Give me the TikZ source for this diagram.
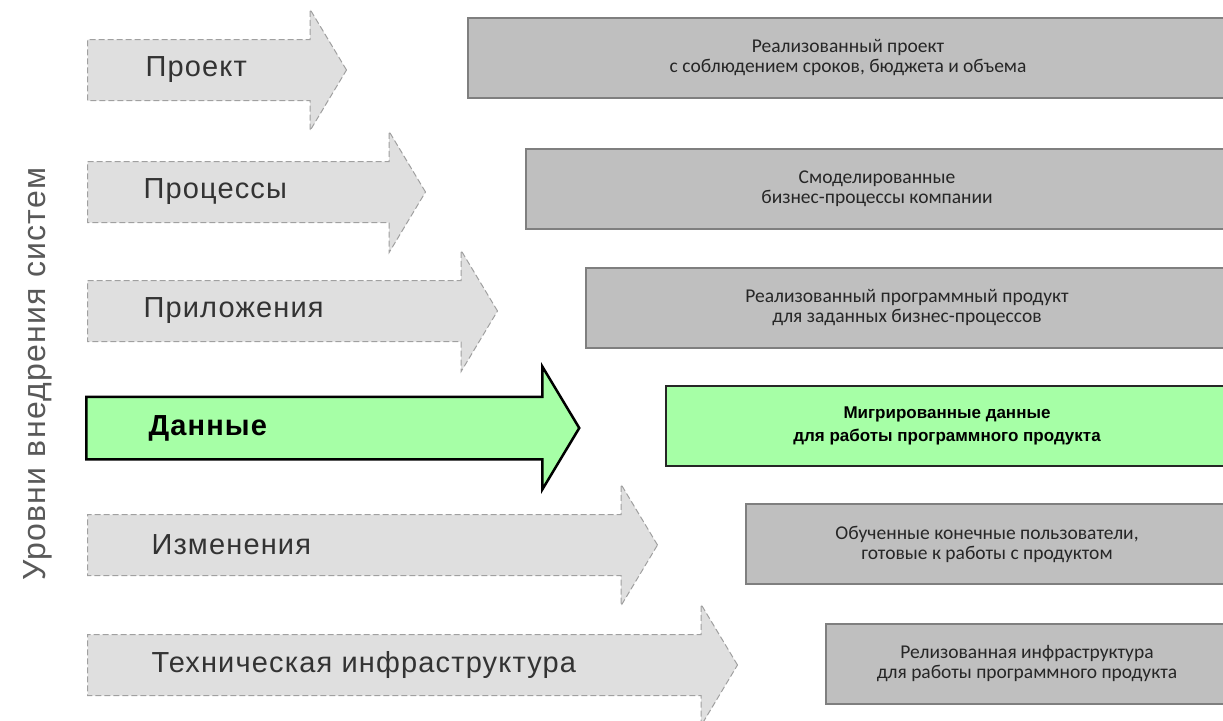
\documentclass[tikz,border=0pt]{standalone}
\usepackage{fontspec}
\setmainfont{Liberation Sans}
\newfontfamily\lvlfont[LetterSpace=4]{Liberation Sans}
\newfontfamily\boxfont{Carlito}
\usetikzlibrary{shapes.arrows}
\definecolor{arrowgray}{HTML}{DFDFDF}
\definecolor{dashgray}{HTML}{A0A0A0}
\definecolor{boxgray}{HTML}{BFBFBF}
\definecolor{rimgray}{HTML}{7F7F7F}
\definecolor{lightgreen}{HTML}{A6FFA6}

\begin{document}
\begin{tikzpicture}[x=1pt,y=-1pt,
  stage/.style={single arrow,single arrow head extend=30pt,single arrow tip angle=118,
    inner xsep=0pt,inner ysep=30pt,anchor=tail},
  gray stage/.style={stage,fill=arrowgray,draw=dashgray,dash pattern=on 6pt off 3pt,line width=1pt},
  green stage/.style={stage,fill=lightgreen,draw=black,line width=2.5pt},
  stage text/.style={anchor=west,font=\lvlfont\fontsize{29}{32}\selectfont,text=black!80},
  outcome/.style={anchor=north west,minimum height=80pt,fill=boxgray,draw=rimgray,line width=2pt,
    align=center,font=\boxfont\fontsize{19.5}{20}\selectfont,text=black!85},
  green outcome/.style={outcome,fill=lightgreen,draw=black!85,font=\bfseries\fontsize{17}{23}\selectfont,text=black}]
  \clip (0,0) rectangle (1223,720);
  % axis title
  \node[rotate=90,font=\lvlfont\fontsize{32}{34}\selectfont,text=black!65] (axis) at (38,374) {Уровни внедрения систем};
  % levels
  \node[gray stage,minimum height=259pt] (proj) at (87,70) {};
  \node[gray stage,minimum height=338pt] (proc) at (87,192) {};
  \node[gray stage,minimum height=410pt] (appl) at (87,311) {};
  \node[green stage,minimum height=493pt] (data) at (85,428) {};
  \node[gray stage,minimum height=570pt] (chng) at (87,545) {};
  \node[gray stage,minimum height=650pt] (infr) at (87,665) {};
  \node[stage text] (tproj) at (142,70) {Проект};
  \node[stage text] (tproc) at (140,192) {Процессы};
  \node[stage text] (tappl) at (140,311) {Приложения};
  \node[stage text,font=\lvlfont\bfseries\fontsize{29}{32}\selectfont,text=black] (tdata) at (145,428) {Данные};
  \node[stage text] (tchng) at (148,545) {Изменения};
  \node[stage text] (tinfr) at (148,665) {Техническая инфраструктура};
  % outcomes
  \node[outcome,minimum width=760pt] (rproj) at (467,17) {Реализованный проект\\с соблюдением сроков, бюджета и объема};
  \node[outcome,minimum width=702pt] (rproc) at (525,148) {Смоделированные\\бизнес-процессы компании};
  \node[outcome,minimum width=642pt] (rappl) at (585,267) {Реализованный программный продукт\\для заданных бизнес-процессов};
  \node[green outcome,minimum width=562pt] (rdata) at (665,385) {Мигрированные данные\\для работы программного продукта};
  \node[outcome,minimum width=482pt] (rchng) at (745,503) {Обученные конечные пользователи,\\готовые к работы с продуктом};
  \node[outcome,minimum width=402pt] (rinfr) at (825,623) {Релизованная инфраструктура\\для работы программного продукта};
\end{tikzpicture}
\end{document}
